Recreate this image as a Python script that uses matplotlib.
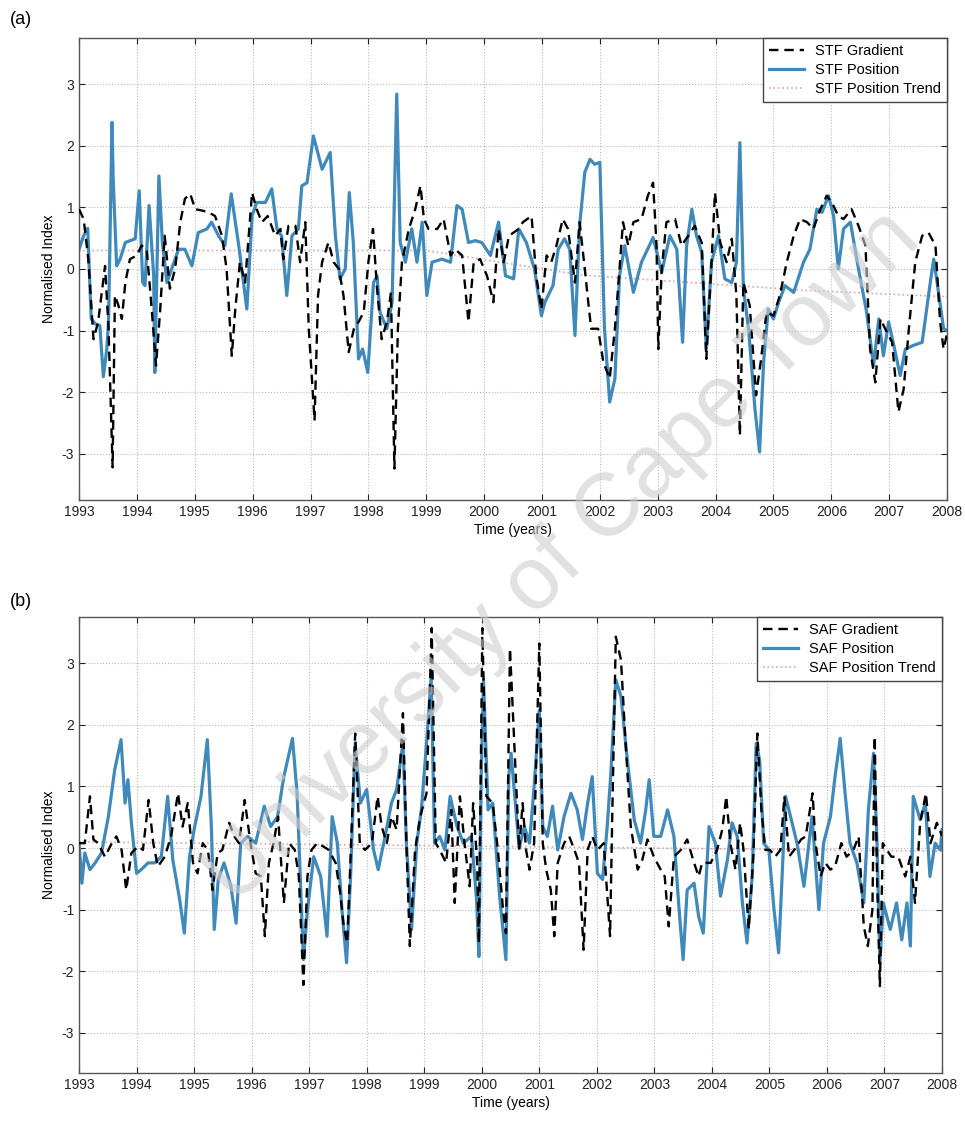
import matplotlib.pyplot as plt

# ---- (a) Subtropical Front ----
stf_grad_t = [1993.00, 1993.08, 1993.16, 1993.25, 1993.33, 1993.45, 1993.51, 1993.58, 1993.62, 1993.68,
              1993.74, 1993.80, 1993.88, 1994.00, 1994.08, 1994.17, 1994.26, 1994.33, 1994.40, 1994.48,
              1994.57, 1994.66, 1994.75, 1994.83, 1994.92, 1995.01, 1995.12, 1995.24, 1995.35, 1995.47,
              1995.55, 1995.64, 1995.70, 1995.78, 1995.87, 1995.99, 1996.07, 1996.16, 1996.26, 1996.39,
              1996.48, 1996.53, 1996.62, 1996.74, 1996.82, 1996.91, 1996.97, 1997.07, 1997.13, 1997.20,
              1997.31, 1997.40, 1997.49, 1997.57, 1997.66, 1997.75, 1997.83, 1997.92, 1998.00, 1998.08,
              1998.15, 1998.23, 1998.32, 1998.39, 1998.45, 1998.51, 1998.58, 1998.70, 1998.81, 1998.90,
              1998.96, 1999.04, 1999.19, 1999.30, 1999.42, 1999.50, 1999.62, 1999.73, 1999.82, 1999.93,
              2000.05, 2000.16, 2000.25, 2000.34, 2000.43, 2000.60, 2000.67, 2000.82, 2000.90, 2000.99,
              2001.08, 2001.16, 2001.25, 2001.36, 2001.45, 2001.57, 2001.65, 2001.74, 2001.80, 2001.85,
              2001.97, 2002.06, 2002.17, 2002.26, 2002.34, 2002.40, 2002.49, 2002.58, 2002.72, 2002.83,
              2002.92, 2002.98, 2003.01, 2003.07, 2003.15, 2003.30, 2003.41, 2003.53, 2003.64, 2003.76,
              2003.84, 2003.93, 2003.99, 2004.08, 2004.19, 2004.28, 2004.36, 2004.42, 2004.48, 2004.59,
              2004.70, 2004.78, 2004.88, 2005.00, 2005.11, 2005.23, 2005.35, 2005.46, 2005.58, 2005.69,
              2005.81, 2005.92, 2006.01, 2006.12, 2006.21, 2006.35, 2006.47, 2006.59, 2006.67, 2006.76,
              2006.85, 2006.93, 2007.05, 2007.16, 2007.25, 2007.34, 2007.45, 2007.57, 2007.68, 2007.80,
              2007.88, 2007.94, 2008.00]
stf_grad_v = [0.97, 0.81, 0.16, -1.14, -0.86, 0.05, -0.97, -3.22, -0.43, -0.59,
              -0.81, -0.22, 0.16, 0.22, 0.38, 0.32, -0.70, -1.57, -0.70, 0.54,
              -0.32, 0.00, 0.76, 1.14, 1.22, 0.97, 0.95, 0.92, 0.86, 0.54,
              0.00, -1.41, -0.65, 0.11, -0.22, 1.24, 0.97, 0.76, 0.86, 0.54,
              0.65, 0.16, 0.70, 0.70, 0.11, 0.76, -0.97, -2.46, -0.43, 0.11,
              0.43, 0.11, 0.00, -0.43, -1.35, -0.97, -0.86, -0.70, 0.11, 0.65,
              -0.32, -1.14, -0.86, -0.38, -3.24, -0.97, 0.11, 0.65, 0.97, 1.35,
              0.81, 0.65, 0.65, 0.81, 0.22, 0.32, 0.22, -0.86, 0.11, 0.16,
              -0.11, -0.54, 0.65, 0.11, 0.54, 0.65, 0.76, 0.86, -0.11, -0.65,
              0.22, 0.11, 0.38, 0.81, 0.65, -0.22, 0.76, 0.00, -0.54, -0.97,
              -0.97, -1.51, -1.78, -0.97, 0.00, 0.76, 0.38, 0.76, 0.81, 1.19,
              1.40, 0.38, -1.30, 0.00, 0.76, 0.81, 0.38, 0.54, 0.70, 0.43,
              -1.46, 0.11, 1.24, 0.43, 0.11, 0.49, -0.43, -2.70, -0.22, -0.59,
              -2.05, -1.51, -0.70, -0.76, -0.43, 0.11, 0.54, 0.81, 0.76, 0.65,
              0.97, 1.19, 1.08, 0.86, 0.81, 0.97, 0.70, 0.38, -1.30, -1.84,
              -0.81, -0.97, -1.19, -2.32, -1.95, -0.97, 0.11, 0.54, 0.59, 0.38,
              -0.86, -1.30, -1.05]

stf_pos_t = [1993.00, 1993.08, 1993.15, 1993.21, 1993.28, 1993.36, 1993.42, 1993.48, 1993.51, 1993.57,
             1993.59, 1993.65, 1993.71, 1993.80, 1993.97, 1994.04, 1994.10, 1994.14, 1994.21, 1994.29,
             1994.31, 1994.38, 1994.44, 1994.52, 1994.60, 1994.72, 1994.83, 1994.95, 1995.06, 1995.21,
             1995.29, 1995.41, 1995.52, 1995.63, 1995.76, 1995.90, 1995.99, 1996.07, 1996.22, 1996.33,
             1996.42, 1996.50, 1996.59, 1996.68, 1996.79, 1996.85, 1996.94, 1997.05, 1997.20, 1997.34,
             1997.43, 1997.51, 1997.60, 1997.67, 1997.74, 1997.83, 1997.90, 1997.99, 1998.09, 1998.15,
             1998.20, 1998.32, 1998.41, 1998.49, 1998.55, 1998.64, 1998.75, 1998.84, 1998.93, 1999.01,
             1999.10, 1999.27, 1999.42, 1999.53, 1999.62, 1999.73, 1999.85, 1999.96, 2000.11, 2000.25,
             2000.37, 2000.51, 2000.60, 2000.73, 2000.87, 2000.99, 2001.05, 2001.19, 2001.28, 2001.39,
             2001.48, 2001.57, 2001.65, 2001.74, 2001.83, 2001.91, 2002.00, 2002.08, 2002.17, 2002.26,
             2002.34, 2002.43, 2002.58, 2002.72, 2002.92, 2003.07, 2003.21, 2003.33, 2003.43, 2003.50,
             2003.59, 2003.67, 2003.76, 2003.84, 2003.93, 2004.05, 2004.16, 2004.28, 2004.36, 2004.42,
             2004.48, 2004.57, 2004.68, 2004.76, 2004.83, 2004.91, 2005.00, 2005.09, 2005.20, 2005.35,
             2005.52, 2005.63, 2005.75, 2005.84, 2005.95, 2006.04, 2006.12, 2006.21, 2006.33, 2006.47,
             2006.61, 2006.73, 2006.82, 2006.90, 2006.99, 2007.08, 2007.19, 2007.28, 2007.42, 2007.57,
             2007.71, 2007.77, 2007.86, 2007.94, 2008.00]
stf_pos_v = [0.32, 0.54, 0.66, -0.81, -0.89, -0.92, -1.75, -1.30, -0.85, 2.38,
             1.46, 0.05, 0.16, 0.43, 0.49, 1.27, -0.22, -0.27, 1.03, -0.11,
             -1.68, 1.51, 0.43, -0.22, 0.00, 0.32, 0.32, 0.05, 0.59, 0.65,
             0.76, 0.54, 0.38, 1.22, 0.38, -0.65, 0.86, 1.08, 1.08, 1.30,
             0.65, 0.54, -0.43, 0.54, 0.65, 1.35, 1.40, 2.16, 1.62, 1.89,
             0.54, -0.16, 0.00, 1.24, 0.43, -1.46, -1.30, -1.68, -0.22, -0.11,
             -0.70, -0.97, -0.54, 2.84, 0.43, 0.11, 0.65, 0.11, 0.76, -0.43,
             0.11, 0.16, 0.11, 1.03, 0.97, 0.43, 0.46, 0.43, 0.22, 0.76,
             -0.11, -0.16, 0.65, 0.43, 0.00, -0.76, -0.54, -0.27, 0.32, 0.49,
             0.32, -1.08, 0.70, 1.57, 1.78, 1.70, 1.73, -0.97, -2.16, -1.78,
             -0.11, 0.38, -0.38, 0.11, 0.51, -0.05, 0.54, 0.32, -1.19, 0.38,
             0.97, 0.54, 0.27, -1.30, 0.11, 0.54, -0.16, -0.22, 0.11, 2.05,
             -0.32, -0.97, -2.27, -2.97, -1.51, -0.65, -0.81, -0.54, -0.27, -0.38,
             0.11, 0.32, 0.97, 0.92, 1.19, 0.86, 0.00, 0.65, 0.76, 0.00,
             -0.70, -1.57, -0.81, -1.41, -0.86, -1.24, -1.73, -1.30, -1.24, -1.19,
             -0.22, 0.16, -0.43, -0.97, -1.00]

stf_trend_t = [1993.0, 1999.0, 2001.7, 2005.6, 2008.0]
stf_trend_v = [0.30, 0.30, -0.10, -0.35, -0.45]

# ---- (b) Subantarctic Front ----
saf_grad_t = [1993.00, 1993.10, 1993.19, 1993.25, 1993.33, 1993.45, 1993.57, 1993.65, 1993.74, 1993.82,
              1993.91, 1994.03, 1994.11, 1994.21, 1994.29, 1994.37, 1994.49, 1994.60, 1994.72, 1994.80,
              1994.89, 1994.98, 1995.06, 1995.15, 1995.24, 1995.32, 1995.41, 1995.49, 1995.61, 1995.70,
              1995.78, 1995.88, 1995.98, 1996.07, 1996.16, 1996.23, 1996.30, 1996.38, 1996.46, 1996.56,
              1996.65, 1996.75, 1996.82, 1996.90, 1996.97, 1997.04, 1997.14, 1997.24, 1997.34, 1997.46,
              1997.54, 1997.60, 1997.66, 1997.72, 1997.80, 1997.88, 1997.97, 1998.09, 1998.19, 1998.26,
              1998.35, 1998.43, 1998.52, 1998.63, 1998.69, 1998.75, 1998.84, 1998.93, 1999.04, 1999.13,
              1999.20, 1999.27, 1999.38, 1999.47, 1999.53, 1999.62, 1999.70, 1999.79, 1999.85, 1999.92,
              1999.95, 2000.01, 2000.08, 2000.19, 2000.28, 2000.37, 2000.42, 2000.49, 2000.65, 2000.71,
              2000.77, 2000.83, 2000.91, 2001.00, 2001.06, 2001.12, 2001.20, 2001.26, 2001.32, 2001.43,
              2001.52, 2001.61, 2001.69, 2001.77, 2001.84, 2001.92, 2002.01, 2002.12, 2002.23, 2002.27,
              2002.33, 2002.42, 2002.50, 2002.59, 2002.71, 2002.79, 2002.88, 2002.99, 2003.11, 2003.18,
              2003.25, 2003.34, 2003.46, 2003.57, 2003.69, 2003.77, 2003.83, 2003.98, 2004.09, 2004.18,
              2004.25, 2004.32, 2004.41, 2004.49, 2004.55, 2004.64, 2004.72, 2004.79, 2004.86, 2004.93,
              2005.01, 2005.10, 2005.19, 2005.26, 2005.34, 2005.43, 2005.55, 2005.63, 2005.75, 2005.80,
              2005.89, 2005.97, 2006.06, 2006.14, 2006.25, 2006.34, 2006.46, 2006.55, 2006.64, 2006.71,
              2006.79, 2006.83, 2006.87, 2006.92, 2006.97, 2007.04, 2007.12, 2007.24, 2007.36, 2007.45,
              2007.53, 2007.62, 2007.72, 2007.80, 2007.91, 2008.00]
saf_grad_v = [0.08, 0.08, 0.84, 0.14, 0.08, -0.14, 0.08, 0.19, -0.03, -0.68,
              -0.08, 0.03, -0.03, 0.78, 0.08, -0.30, -0.14, 0.19, 0.89, 0.35,
              0.73, -0.24, -0.41, 0.08, -0.03, -0.68, -0.08, -0.03, 0.41, 0.19,
              0.08, 0.78, 0.08, -0.41, -0.46, -1.43, -0.24, 0.08, 0.51, -0.89,
              0.08, -0.03, -0.46, -2.22, -0.46, -0.03, 0.08, 0.03, -0.03, -0.24,
              -0.73, -1.27, -1.54, -0.14, 1.86, 0.08, -0.03, 0.08, 0.84, 0.35,
              0.08, 0.51, 0.30, 2.19, 0.08, -1.59, -0.03, 0.51, 0.89, 3.57,
              0.08, -0.03, -0.24, 0.62, -0.89, 0.84, 0.08, -0.62, 0.73, -0.24,
              -1.54, 3.57, 0.84, 0.73, -0.03, -1.00, -1.38, 3.24, -0.03, 0.73,
              -0.03, -0.35, 0.08, 3.32, 0.08, -0.35, -0.68, -1.43, -0.24, 0.08,
              0.19, -0.03, -0.24, -1.65, -0.03, 0.19, -0.03, 0.08, -1.43, 0.62,
              3.43, 3.05, 1.70, 0.35, -0.35, -0.19, 0.14, -0.14, -0.35, -0.46,
              -1.27, -0.14, -0.03, 0.14, -0.24, -0.46, -0.24, -0.24, -0.03, 0.30,
              0.84, 0.08, -0.35, 0.41, -0.03, -1.32, -0.14, 1.86, 0.62, -0.03,
              -0.03, -0.14, -0.03, 0.84, -0.14, -0.03, 0.14, 0.19, 0.89, 0.08,
              -0.46, -0.24, -0.35, -0.30, 0.08, -0.14, -0.03, 0.19, -1.27, -1.59,
              -1.00, 1.81, -0.46, -2.24, 0.08, -0.03, -0.14, -0.14, -0.46, -0.14,
              -0.89, 0.41, 0.89, 0.08, 0.41, 0.20]

saf_pos_t = [1993.00, 1993.05, 1993.10, 1993.19, 1993.28, 1993.39, 1993.51, 1993.62, 1993.73, 1993.80,
             1993.85, 1993.91, 1994.00, 1994.08, 1994.20, 1994.31, 1994.43, 1994.54, 1994.63, 1994.75,
             1994.83, 1994.92, 1995.01, 1995.12, 1995.23, 1995.30, 1995.35, 1995.42, 1995.52, 1995.64,
             1995.73, 1995.81, 1995.93, 1996.07, 1996.22, 1996.33, 1996.45, 1996.56, 1996.71, 1996.79,
             1996.90, 1996.97, 1997.08, 1997.20, 1997.31, 1997.40, 1997.49, 1997.57, 1997.65, 1997.72,
             1997.80, 1997.89, 1998.00, 1998.12, 1998.20, 1998.32, 1998.43, 1998.52, 1998.63, 1998.69,
             1998.78, 1998.87, 1998.95, 1999.04, 1999.12, 1999.18, 1999.27, 1999.36, 1999.45, 1999.57,
             1999.68, 1999.82, 1999.91, 1999.95, 1999.99, 2000.03, 2000.11, 2000.19, 2000.31, 2000.42,
             2000.47, 2000.51, 2000.65, 2000.74, 2000.83, 2000.91, 2001.00, 2001.06, 2001.14, 2001.23,
             2001.32, 2001.43, 2001.55, 2001.66, 2001.75, 2001.84, 2001.92, 2002.01, 2002.10, 2002.18,
             2002.24, 2002.33, 2002.42, 2002.53, 2002.65, 2002.76, 2002.85, 2002.91, 2002.99, 2003.11,
             2003.23, 2003.34, 2003.43, 2003.50, 2003.57, 2003.69, 2003.77, 2003.85, 2003.95, 2004.06,
             2004.15, 2004.27, 2004.35, 2004.44, 2004.53, 2004.61, 2004.70, 2004.77, 2004.83, 2004.90,
             2004.99, 2005.08, 2005.16, 2005.22, 2005.28, 2005.48, 2005.60, 2005.74, 2005.86, 2005.94,
             2006.06, 2006.14, 2006.23, 2006.32, 2006.40, 2006.52, 2006.64, 2006.72, 2006.81, 2006.87,
             2006.92, 2006.98, 2007.10, 2007.21, 2007.30, 2007.39, 2007.45, 2007.50, 2007.62, 2007.71,
             2007.79, 2007.88, 2007.97, 2008.00]
saf_pos_v = [0.08, -0.57, -0.08, -0.35, -0.24, -0.08, 0.51, 1.27, 1.76, 0.73,
             1.11, 0.41, -0.41, -0.35, -0.24, -0.24, -0.14, 0.84, -0.19, -0.84,
             -1.38, -0.14, 0.35, 0.84, 1.76, 0.35, -1.32, -0.51, -0.24, -0.62,
             -1.22, 0.08, 0.19, 0.08, 0.68, 0.35, 0.51, 1.16, 1.78, 0.89,
             -1.81, -1.00, -0.14, -0.46, -1.43, 0.51, 0.08, -1.00, -1.86, -0.46,
             1.70, 0.73, 0.95, -0.03, -0.35, 0.19, 0.73, 0.95, 1.70, 0.08,
             -1.32, 0.08, 0.62, 1.70, 2.78, 0.08, 0.19, -0.03, 0.84, 0.35,
             0.08, 0.19, -0.84, -1.76, 1.16, 2.73, 0.62, 0.73, -0.78, -1.81,
             1.16, 1.54, 0.00, 0.35, 0.08, 1.00, 2.24, 0.35, 0.19, 0.68,
             -0.03, 0.51, 0.89, 0.62, 0.14, 0.73, 1.16, -0.41, -0.51, 0.35,
             1.16, 2.73, 2.46, 1.43, 0.46, 0.08, 0.62, 1.11, 0.19, 0.19,
             0.62, 0.19, -1.00, -1.81, -0.68, -0.57, -1.11, -1.38, 0.35, 0.08,
             -0.78, -0.19, 0.41, 0.19, -0.89, -1.54, -0.46, 1.70, 1.43, 0.08,
             -0.03, -1.00, -1.70, -0.46, 0.84, 0.08, -0.62, 0.51, -1.00, 0.08,
             0.51, 1.16, 1.78, 0.84, 0.08, -0.24, -0.89, 0.62, 1.54, 0.08,
             -1.86, -0.89, -1.32, -0.89, -1.49, -0.89, -1.59, 0.84, 0.46, 0.73,
             -0.46, 0.08, -0.03, 0.30]

saf_trend_t = [1993.0, 2008.0]
saf_trend_v = [0.10, -0.05]

year_ticks = list(range(1993, 2009))
index_ticks = [-3, -2, -1, 0, 1, 2, 3]

pos_blue = '#4089bb'
trend_pink = '#e3a3ad'

plt.rcParams['font.family'] = ['Liberation Sans', 'DejaVu Sans']
plt.rcParams['axes.unicode_minus'] = False

fig = plt.figure(figsize=(9.65, 11.21), dpi=100)
ax_a = fig.add_axes([0.0819, 0.554, 0.8995, 0.4121])
ax_b = fig.add_axes([0.0819, 0.0428, 0.8943, 0.4068])


def draw_panel(ax, grad_t, grad_v, pos_t, pos_v, trend_t, trend_v, front, ylim):
    h_grad, = ax.plot(grad_t, grad_v, color='black', lw=1.7, dashes=(4, 2.5), zorder=3)
    h_pos, = ax.plot(pos_t, pos_v, color=pos_blue, lw=2.3, zorder=2)
    h_trend, = ax.plot(trend_t, trend_v, color=trend_pink, lw=1.2, linestyle=':', zorder=1)
    ax.set_xlim(1993, 2008)
    ax.set_ylim(*ylim)
    ax.set_xticks(year_ticks)
    ax.set_yticks(index_ticks)
    ax.tick_params(direction='in', top=True, right=True, length=4, labelsize=10, colors='#222222')
    ax.grid(True, linestyle=':', color='#b8b8b8', lw=0.8)
    for sp in ax.spines.values():
        sp.set_color('#555555')
        sp.set_linewidth(1.0)
    ax.set_xlabel('Time (years)', fontsize=10, labelpad=3)
    ax.set_ylabel('Normalised Index', fontsize=10, labelpad=4)
    leg = ax.legend([h_grad, h_pos, h_trend],
                    [front + ' Gradient', front + ' Position', front + ' Position Trend'],
                    loc='upper right', fontsize=10.5, frameon=True, fancybox=False,
                    borderaxespad=0.0, handlelength=2.4, labelspacing=0.35, framealpha=1)
    leg.get_frame().set_edgecolor('#444444')
    leg.get_frame().set_linewidth(1.0)


draw_panel(ax_a, stf_grad_t, stf_grad_v, stf_pos_t, stf_pos_v, stf_trend_t, stf_trend_v,
           'STF', (-3.75, 3.75))
draw_panel(ax_b, saf_grad_t, saf_grad_v, saf_pos_t, saf_pos_v, saf_trend_t, saf_trend_v,
           'SAF', (-3.65, 3.75))

fig.text(0.010, 0.983, '(a)', fontsize=13, va='center')
fig.text(0.010, 0.463, '(b)', fontsize=13, va='center')

# watermark across both panels
fig.text(0.583, 0.503, 'University of Cape Town', fontsize=64, color='#cdcdcd', alpha=0.6,
         rotation=44, ha='center', va='center', rotation_mode='anchor', zorder=10)

fig.savefig('out.png', dpi=100)
